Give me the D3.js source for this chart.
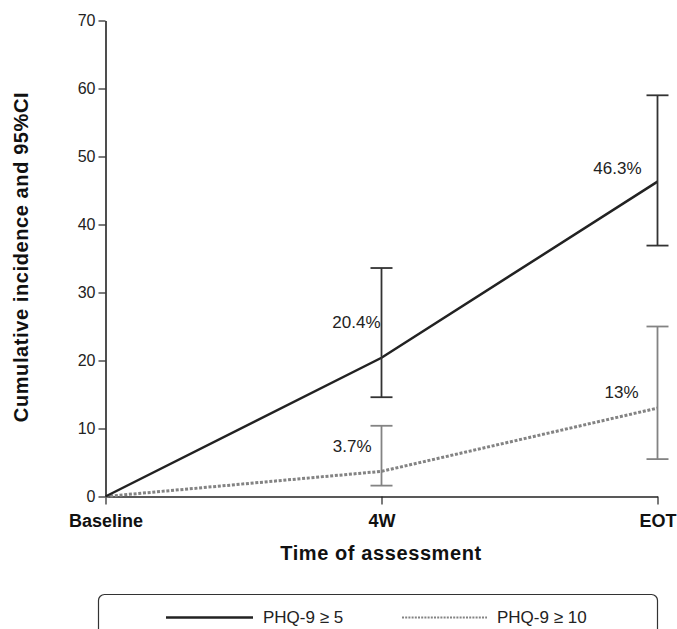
<!DOCTYPE html>
<html>
<head>
<meta charset="utf-8">
<script src="https://cdn.jsdelivr.net/npm/d3@7"></script>
<style>
  html, body { margin: 0; padding: 0; background: #fff; }
  svg { display: block; font-family: "Liberation Sans", Arial, Helvetica, sans-serif; }
</style>
</head>
<body>
<svg id="chart" width="677" height="629"></svg>
<script>
// ---- data ----
const categories = ["Baseline", "4W", "EOT"];
const phq5 = [0, 20.4, 46.3];
const phq5Lower = [null, 14.6, 36.9];
const phq5Upper = [null, 33.6, 59.0];
const phq10 = [0, 3.7, 13];
const phq10Lower = [null, 1.6, 5.5];
const phq10Upper = [null, 10.4, 25.0];
const phq5Labels = ["", "20.4%", "46.3%"];
const phq10Labels = ["", "3.7%", "13%"];
const yTicks = [0, 10, 20, 30, 40, 50, 60, 70];
const seriesNames = ["PHQ-9 \u2265 5", "PHQ-9 \u2265 10"];

// ---- drawing ----
const svg = d3.select("#chart");
const x = d3.scalePoint().domain(categories).range([105.5, 657.5]).padding(0);
const y = d3.scaleLinear().domain([0, 70]).range([496.5, 20.5]);

const dark = "#222", grey = "#838383", errDark = "#333";

// y axis
const yAxis = svg.append("g").attr("transform", "translate(105.5,0)")
  .call(d3.axisLeft(y).tickValues(yTicks).tickSize(7).tickPadding(3).tickSizeOuter(0));
yAxis.select(".domain").attr("stroke", dark).attr("stroke-width", 1.6);
yAxis.selectAll(".tick line").attr("stroke", dark).attr("stroke-width", 1.2);
yAxis.selectAll(".tick text").attr("fill", "#222").style("font-size", "16px")
  .style("font-family", "Liberation Sans, Arial, sans-serif");

// x axis
const xAxis = svg.append("g").attr("transform", "translate(0,496.5)")
  .call(d3.axisBottom(x).tickSize(8).tickPadding(10).tickSizeOuter(0));
xAxis.select(".domain").attr("stroke", dark).attr("stroke-width", 1.6);
xAxis.selectAll(".tick line").attr("stroke", dark).attr("stroke-width", 1.2);
xAxis.selectAll(".tick text").attr("fill", "#111").style("font-size", "18px")
  .style("font-weight", "bold").style("font-family", "Liberation Sans, Arial, sans-serif");

// axis titles
svg.append("text").attr("x", 381).attr("y", 560).attr("text-anchor", "middle")
  .style("font-size", "20px").style("font-weight", "bold").style("letter-spacing", "0.6px")
  .attr("fill", "#111").text("Time of assessment");
svg.append("text").attr("transform", "translate(28,257) rotate(-90)").attr("text-anchor", "middle")
  .style("font-size", "20px").style("font-weight", "bold").style("letter-spacing", "0.6px")
  .attr("fill", "#111").text("Cumulative incidence and 95%CI");

// lines
const line = d3.line().x((d, i) => x(categories[i])).y(d => y(d));
svg.append("path").datum(phq10).attr("d", line).attr("fill", "none")
  .attr("stroke", grey).attr("stroke-width", 3).attr("stroke-dasharray", "3,1.7");
svg.append("path").datum(phq5).attr("d", line).attr("fill", "none")
  .attr("stroke", dark).attr("stroke-width", 2.5);

// error bars
function errorBars(lower, upper, color, width) {
  const g = svg.append("g").attr("stroke", color).attr("stroke-width", width);
  categories.forEach((c, i) => {
    if (lower[i] == null) return;
    const cx = x(c);
    g.append("line").attr("x1", cx).attr("x2", cx).attr("y1", y(lower[i])).attr("y2", y(upper[i]));
    g.append("line").attr("x1", cx - 11).attr("x2", cx + 11).attr("y1", y(lower[i])).attr("y2", y(lower[i]));
    g.append("line").attr("x1", cx - 11).attr("x2", cx + 11).attr("y1", y(upper[i])).attr("y2", y(upper[i]));
  });
}
errorBars(phq5Lower, phq5Upper, errDark, 1.8);
errorBars(phq10Lower, phq10Upper, grey, 1.8);

// value labels (offsets relative to the point)
const off5 = [null, [-1, -30], [-16, -8]];
const off10 = [null, [-10, -19], [-19, -10]];
function valueLabels(vals, labels, offs) {
  categories.forEach((c, i) => {
    if (!labels[i]) return;
    svg.append("text").attr("x", x(c) + offs[i][0]).attr("y", y(vals[i]) + offs[i][1])
      .attr("text-anchor", "end").style("font-size", "17px").attr("fill", "#222").text(labels[i]);
  });
}
valueLabels(phq5, phq5Labels, off5);
valueLabels(phq10, phq10Labels, off10);

// legend
svg.append("rect").attr("x", 98.5).attr("y", 594.5).attr("width", 559).attr("height", 70)
  .attr("rx", 6).attr("fill", "none").attr("stroke", "#333").attr("stroke-width", 1.2);
svg.append("line").attr("x1", 166).attr("x2", 253).attr("y1", 617.5).attr("y2", 617.5)
  .attr("stroke", dark).attr("stroke-width", 2.5);
svg.append("text").attr("x", 263).attr("y", 623).style("font-size", "17px").attr("fill", "#222").text(seriesNames[0]);
svg.append("line").attr("x1", 402).attr("x2", 487).attr("y1", 617.5).attr("y2", 617.5)
  .attr("stroke", grey).attr("stroke-width", 2).attr("stroke-dasharray", "2,1.2");
svg.append("text").attr("x", 497).attr("y", 623).style("font-size", "17px").attr("fill", "#222").text(seriesNames[1]);
</script>
</body>
</html>
